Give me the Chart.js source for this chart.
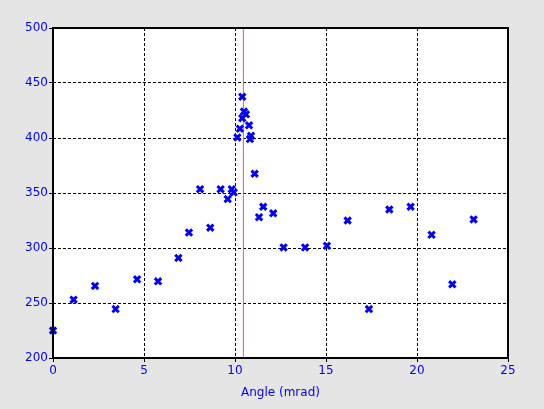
<!DOCTYPE html>
<html>
<head>
<meta charset="utf-8">
<script src="https://cdn.jsdelivr.net/npm/chart.js@4/dist/chart.umd.min.js"></script>
<style>
  html, body { margin: 0; padding: 0; background: #e5e5e5; }
  #wrap { width: 544px; height: 409px; }
</style>
</head>
<body>
<div id="wrap"><canvas id="chart"></canvas></div>
<script>
// angle (mrad) and measured value of each sample
const angles = [0, 1.13, 2.31, 3.44, 4.62, 5.77, 6.89, 7.47, 8.08, 8.64,
    9.21, 9.6, 9.82, 9.93, 10.13, 10.27, 10.4, 10.4, 10.49, 10.6,
    10.77, 10.82, 10.88, 11.08, 11.32, 11.55, 12.1, 12.67, 13.85, 15.05,
    16.19, 17.36, 18.48, 19.65, 20.8, 21.94, 23.11];
const values = [225, 253, 265.5, 244.5, 271.5, 269.7, 291, 314, 353.5, 318.5,
    353.5, 344.5, 353.5, 350.5, 400.5, 408.5, 437.5, 418, 424, 421.5,
    411.5, 399, 402, 367.5, 328, 337.5, 331.5, 300.5, 300.5, 302,
    325, 244.5, 335, 337.5, 312, 267, 326];

// red reference line
const markerAngle = 10.46;

const xRange = [0, 25];
const yRange = [200, 500];

const points = angles.map((a, i) => ({ x: a, y: values[i] }));

// white plot area + black frame
const frame = {
    id: 'frame',
    beforeDraw: (chart) => {
        const { ctx, chartArea: a } = chart;
        ctx.save();
        ctx.fillStyle = '#ffffff';
        ctx.fillRect(a.left, a.top, a.right - a.left, a.bottom - a.top);
        ctx.restore();
    },
    afterDatasetsDraw: (chart) => {
        const { ctx, chartArea: a } = chart;
        ctx.save();
        ctx.strokeStyle = '#000000';
        ctx.lineWidth = 2;
        ctx.strokeRect(a.left, a.top, a.right - a.left, a.bottom - a.top);
        ctx.restore();
    }
};

const blue = '#0000ff';
const font = { family: 'DejaVu Sans', size: 12 };

new Chart(document.getElementById('chart'), {
    type: 'scatter',
    data: {
        datasets: [
            {
                type: 'line',
                data: [{ x: markerAngle, y: yRange[0] }, { x: markerAngle, y: yRange[1] }],
                borderColor: '#e06060',
                borderWidth: 1,
                pointRadius: 0,
                order: 2
            },
            {
                data: points,
                pointStyle: 'crossRot',
                pointRadius: 4.5,
                pointBorderWidth: 3,
                borderColor: blue,
                backgroundColor: blue,
                clip: false,
                order: 1
            }
        ]
    },
    options: {
        responsive: true,
        maintainAspectRatio: false,
        animation: false,
        events: [],
        layout: { padding: { top: 28, right: 36, left: 0, bottom: 0 } },
        plugins: {
            legend: { display: false },
            tooltip: { enabled: false }
        },
        scales: {
            x: {
                type: 'linear',
                min: xRange[0],
                max: xRange[1],
                afterFit: (s) => { s.height = 51; },
                ticks: { stepSize: 5, color: blue, font: font, padding: 2, maxRotation: 0 },
                grid: { color: '#000000', lineWidth: 1, tickLength: 4, tickColor: '#000000' },
                border: { display: false, dash: [3, 2] },
                title: { display: true, text: 'Angle (mrad)', color: blue, font: font, padding: { top: 0, bottom: 9 } }
            },
            y: {
                type: 'linear',
                min: yRange[0],
                max: yRange[1],
                afterFit: (s) => { s.width = 53; },
                ticks: { stepSize: 50, color: blue, font: font, padding: 1 },
                grid: { color: '#000000', lineWidth: 1, tickLength: 4, tickColor: '#000000' },
                border: { display: false, dash: [3, 2] }
            }
        }
    },
    plugins: [frame]
});
</script>
</body>
</html>
